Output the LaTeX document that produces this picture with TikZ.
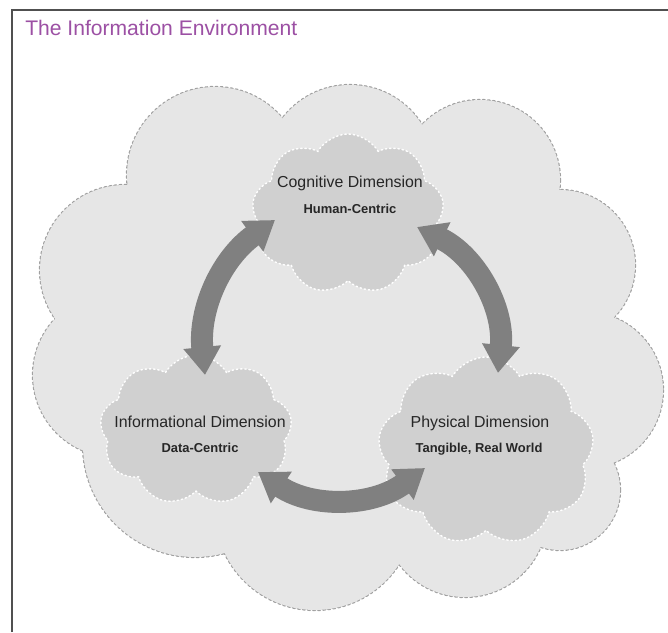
\documentclass[tikz,border=0pt]{standalone}
\usepackage{fontspec}
\setmainfont{Liberation Sans}
\usetikzlibrary{shapes.symbols}
\usetikzlibrary{arrows.meta}
\usetikzlibrary{positioning}
\definecolor{envpurple}{RGB}{156,80,164}
\definecolor{envgray}{RGB}{230,230,230}
\definecolor{dimgray}{RGB}{208,208,208}
\definecolor{arrowgray}{RGB}{128,128,128}
\definecolor{dotgray}{RGB}{160,160,160}
\definecolor{framegray}{RGB}{80,80,80}
\tikzset{
    dimcloud/.style={cloud, cloud puffs=9, cloud puff arc=120, cloud ignores aspect,
        fill=dimgray, draw=white, dotted, line width=1pt, line cap=round, inner sep=0pt},
    dimtitle/.style={anchor=base, font=\fontsize{11.3}{13}\selectfont, text=black!85},
    dimsub/.style={anchor=base, font=\fontsize{9.2}{11}\selectfont\bfseries, text=black!85},
    cycarrow/.style={draw=arrowgray, line width=0.55cm,
        {Triangle[width=0.9cm,length=0.7cm]}-{Triangle[width=0.9cm,length=0.7cm]}},
}

\begin{document}
\begin{tikzpicture}[x=0.025cm, y=-0.025cm]
\useasboundingbox (0,0) rectangle (668,632);
\fill[white] (0,0) rectangle (668,632);
% frame, only top and left edges
\draw[framegray, line width=0.05cm] (12,632) -- (12,10) -- (668,10);
\node[anchor=west, inner sep=0pt, text=envpurple, font=\fontsize{15}{18}\selectfont]
    (envtitle) at (25,27.5) {The Information Environment};
% environment cloud: dotted outline first, then the fill covers the inner half
\foreach \cx/\cy/\r in {215/175/88, 350/170/85, 480/180/80, 560/265/75, 585/390/78,
        560/490/60, 465/515/82, 315/510/100, 195/445/112, 115/375/82, 125/270/85}
    \draw[dotgray, dotted, line width=1.6pt, line cap=round] (\cx,\cy) circle[radius=\r];
\fill[envgray] \foreach \cx/\cy/\r in {215/175/88, 350/170/85, 480/180/80, 560/265/75,
        585/390/78, 560/490/60, 465/515/82, 315/510/100, 195/445/112, 115/375/82,
        125/270/85, 345/345/200} {(\cx,\cy) circle[radius=\r]};
% the three dimensions
\node[dimcloud, minimum width=4.8cm, minimum height=4.0cm] (cog) at (348,214) {};
\node[dimcloud, minimum width=4.8cm, minimum height=3.75cm] (info) at (196,430) {};
\node[dimcloud, minimum width=5.4cm, minimum height=4.7cm] (phys) at (486,451) {};
\node[dimtitle] (cogname) at (350,187) {Cognitive Dimension};
\node[dimsub] (cogsub) at (350,213) {Human-Centric};
\node[dimtitle] (infoname) at (200,427) {Informational Dimension};
\node[dimsub] (infosub) at (200,452) {Data-Centric};
\node[dimtitle] (physname) at (480,427) {Physical Dimension};
\node[dimsub] (physsub) at (479,452) {Tangible, Real World};
% interactions
\draw[cycarrow] ([shift={(9,-55)}]info.center) to[bend left=30] ([shift={(-73,6)}]cog.center);
\draw[cycarrow] ([shift={(69,13)}]cog.center) to[bend left=35] ([shift={(12,-78)}]phys.center);
\draw[cycarrow] ([shift={(-61,17)}]phys.center) to[bend left=35] ([shift={(62,42)}]info.center);
\end{tikzpicture}
\end{document}
